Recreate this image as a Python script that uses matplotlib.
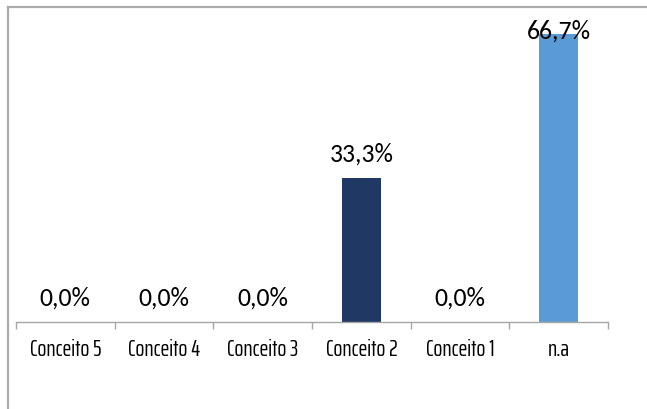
import matplotlib
matplotlib.use('Agg')
import matplotlib.pyplot as plt
from matplotlib.lines import Line2D
import numpy as np

# Datos del gráfico
categorias = ['Conceito 5', 'Conceito 4', 'Conceito 3', 'Conceito 2', 'Conceito 1', 'n.a']
valores = [0.0, 0.0, 0.0, 33.3, 0.0, 66.7]
colores = ['#203864', '#203864', '#203864', '#203864', '#203864', '#5B9BD5']

fuente_valores = ['Carlito', 'Lato', 'DejaVu Sans']
fuente_ejes = ['Saira ExtraCondensed', 'DejaVu Sans']

fig = plt.figure(figsize=(6.47, 4.09), dpi=100)
ax = fig.add_axes([16 / 647, 87 / 409, 592 / 647, 302 / 409])

x = np.arange(len(categorias))
ax.bar(x, valores, width=0.4, color=colores, zorder=2)

ax.set_xlim(-0.5, len(categorias) - 0.5)
ax.set_ylim(0, 70)

# etiquetas de valor (la más alta queda dentro del área, como en Excel)
for xi, v in zip(x, valores):
    texto = f'{v:.1f}%'.replace('.', ',')
    desplazamiento = -2.9 if v == max(valores) else 11.8
    ax.annotate(texto, (xi, v), xytext=(0, desplazamiento), textcoords='offset points',
                ha='center', va='baseline', fontsize=18.5, family=fuente_valores,
                color='#000000', zorder=3)

# ejes
for s in ['top', 'right', 'left']:
    ax.spines[s].set_visible(False)
ax.spines['bottom'].set_color('#A6A6A6')
ax.spines['bottom'].set_linewidth(1.0)
ax.set_yticks([])

ax.set_xticks(np.arange(len(categorias) + 1) - 0.5)
ax.set_xticklabels([])
ax.tick_params(axis='x', which='major', direction='out', length=5, width=1, color='#A6A6A6')
ax.set_xticks(x, minor=True)
ax.set_xticklabels(categorias, minor=True, fontsize=17, family=fuente_ejes, color='#000000')
ax.tick_params(axis='x', which='minor', length=0, pad=12)

# borde del gráfico
fig.add_artist(Line2D([8 / 647, 1], [1 - 7 / 409, 1 - 7 / 409], transform=fig.transFigure,
                      color='#ABABAB', lw=1.6))
fig.add_artist(Line2D([8 / 647, 8 / 647], [0, 1 - 7 / 409], transform=fig.transFigure,
                      color='#ABABAB', lw=1.6))

fig.savefig('out.png', dpi=100)
